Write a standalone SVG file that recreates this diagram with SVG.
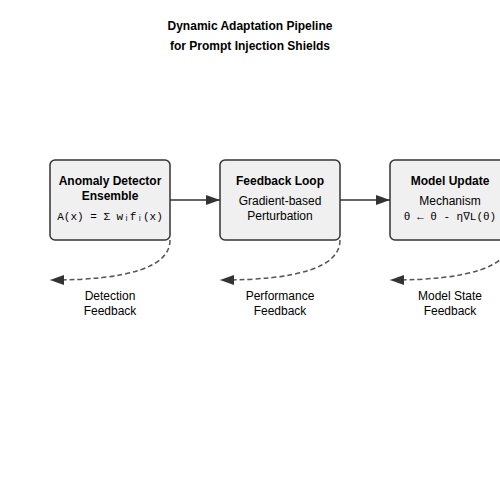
<svg xmlns="http://www.w3.org/2000/svg" width="500" height="500" viewBox="0 0 500 500">
<style>
text{font-family:"Liberation Sans",Arial,sans-serif;font-size:12px;fill:#000;text-anchor:middle}
.t{font-weight:bold}
.m{font-family:"Liberation Mono","DejaVu Sans Mono",monospace;font-size:11px}
.box{fill:#f0f0f0;stroke:#333;stroke-width:1.5}
.flow{fill:none;stroke:#333;stroke-width:1.5}
.fb{fill:none;stroke:#555;stroke-width:1.5;stroke-dasharray:5,3}
</style>
<defs>
<marker id="ah" viewBox="0 0 10 10" refX="10" refY="5" markerWidth="10" markerHeight="7" markerUnits="userSpaceOnUse" orient="auto" preserveAspectRatio="none">
<path d="M0,0 L10,5 L0,10 z" fill="#333"/>
</marker>
<marker id="ah2" viewBox="0 0 10 10" refX="10" refY="5" markerWidth="14" markerHeight="10" markerUnits="userSpaceOnUse" orient="auto" preserveAspectRatio="none">
<path d="M0,0 L10,5 L0,10 z" fill="#333"/>
</marker>
</defs>
<rect width="500" height="500" fill="#fff"/>
<g id="title">
<text class="t" x="250" y="30">Dynamic Adaptation Pipeline</text>
<text class="t" x="250" y="50">for Prompt Injection Shields</text>
</g>
<g id="connectors">
<path class="flow" d="M170,200 L220,200" marker-end="url(#ah2)"/>
<path class="flow" d="M340,200 L390,200" marker-end="url(#ah2)"/>
<path class="fb" d="M170,240 Q170,280 50,280" marker-end="url(#ah2)"/>
<path class="fb" d="M340,240 Q340,280 220,280" marker-end="url(#ah2)"/>
<path class="fb" d="M510,240 Q510,280 390,280" marker-end="url(#ah2)"/>
</g>
<g id="detector">
<rect class="box" x="50" y="160" width="120" height="80" rx="5"/>
<text class="t" x="110" y="185">Anomaly Detector</text>
<text class="t" x="110" y="200">Ensemble</text>
<text class="m" x="110" y="220">A(x) = Σ wᵢfᵢ(x)</text>
</g>
<g id="feedback">
<rect class="box" x="220" y="160" width="120" height="80" rx="5"/>
<text class="t" x="280" y="185">Feedback Loop</text>
<text x="280" y="205">Gradient-based</text>
<text x="280" y="220">Perturbation</text>
</g>
<g id="update">
<rect class="box" x="390" y="160" width="120" height="80" rx="5"/>
<text class="t" x="450" y="185">Model Update</text>
<text x="450" y="205">Mechanism</text>
<text class="m" x="450" y="220">θ ← θ - η∇L(θ)</text>
</g>
<g id="labels">
<text x="110" y="300">Detection</text>
<text x="110" y="315">Feedback</text>
<text x="280" y="300">Performance</text>
<text x="280" y="315">Feedback</text>
<text x="450" y="300">Model State</text>
<text x="450" y="315">Feedback</text>
</g>
</svg>
